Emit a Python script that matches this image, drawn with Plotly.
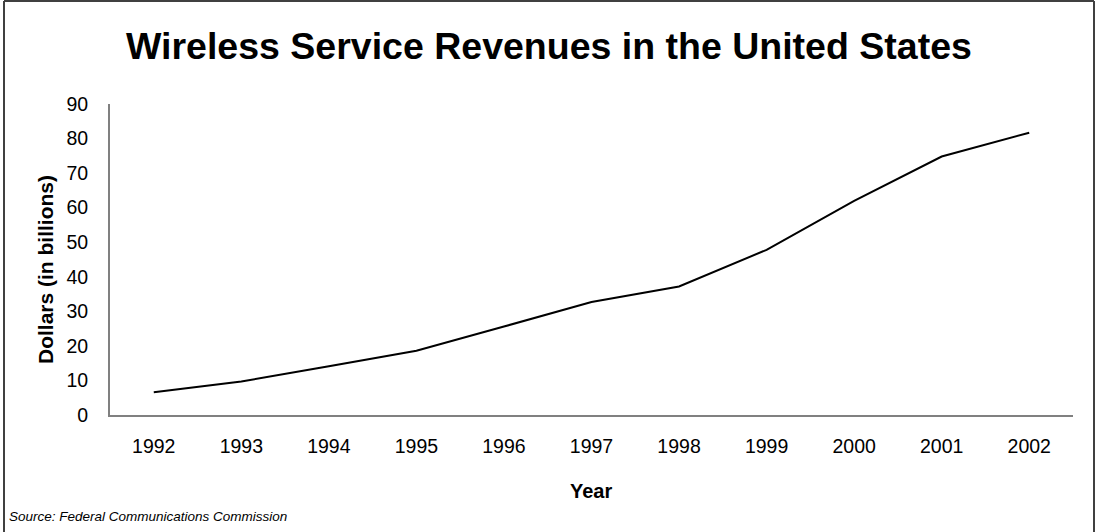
import plotly.graph_objects as go

years = ["1992", "1993", "1994", "1995", "1996", "1997", "1998", "1999", "2000", "2001", "2002"]
revenues = [6.6, 9.7, 14.1, 18.6, 25.6, 32.7, 37.2, 47.8, 62.0, 74.8, 81.7]
y_ticks = [0, 10, 20, 30, 40, 50, 60, 70, 80, 90]

W, H = 1096, 532
L, R, T, B = 110, 1073, 104, 415
pw, ph = R - L, B - T

def px(x):
    return (x - L) / pw

def py(y):
    return (B - y) / ph

fig = go.Figure()
fig.add_trace(go.Scatter(x=years, y=revenues, mode="lines",
                         line=dict(color="black", width=2), showlegend=False))

font_main = "Liberation Sans, Arial, sans-serif"

fig.update_layout(
    width=W, height=H,
    margin=dict(l=L, r=W - R, t=T, b=H - B, pad=0),
    paper_bgcolor="white", plot_bgcolor="white",
    font=dict(family=font_main, color="black"),
    xaxis=dict(type="category", range=[-0.5, 10.5], showgrid=False, zeroline=False,
               showline=True, linecolor="#808080", linewidth=2,
               ticks="outside", ticklen=13, tickcolor="rgba(0,0,0,0)",
               tickfont=dict(size=19.5, family=font_main, color="black")),
    yaxis=dict(range=[0, 90], tickvals=y_ticks, showgrid=False, zeroline=False,
               showline=True, linecolor="#808080", linewidth=2,
               ticks="outside", ticklen=16, tickcolor="rgba(0,0,0,0)",
               tickfont=dict(size=19.5, family=font_main, color="black")),
    shapes=[
        dict(type="line", xref="paper", yref="paper", x0=px(4), x1=px(4), y0=py(1), y1=py(532),
             line=dict(color="#404040", width=2)),
        dict(type="line", xref="paper", yref="paper", x0=px(4), x1=px(1094), y0=py(1), y1=py(1),
             line=dict(color="#404040", width=2)),
        dict(type="line", xref="paper", yref="paper", x0=px(1094), x1=px(1094), y0=py(1), y1=py(532),
             line=dict(color="#404040", width=2)),
    ],
    annotations=[
        dict(text="<b>Wireless Service Revenues in the United States</b>", xref="paper", yref="paper",
             x=px(549), y=py(46), xanchor="center", yanchor="middle", showarrow=False,
             font=dict(size=37.5, family=font_main)),
        dict(text="<b>Dollars (in billions)</b>", xref="paper", yref="paper",
             x=px(45), y=py(270), xanchor="center", yanchor="middle", showarrow=False,
             textangle=-90, font=dict(size=21)),
        dict(text="<b>Year</b>", xref="paper", yref="paper",
             x=px(591), y=py(491), xanchor="center", yanchor="middle", showarrow=False,
             font=dict(size=20)),
        dict(text="<i>Source: Federal Communications Commission</i>", xref="paper", yref="paper",
             x=px(7), y=py(516), xanchor="left", yanchor="middle", showarrow=False,
             font=dict(size=13.5)),
    ],
)

fig.write_html("out.html")
